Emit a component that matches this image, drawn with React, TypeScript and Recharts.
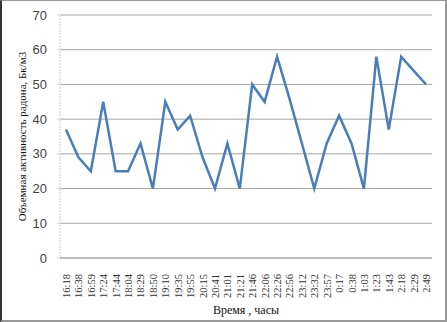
import React from 'react';
import { CartesianGrid, Label, Line, LineChart, XAxis, YAxis } from 'recharts';

const times = [
  '16:18', '16:38', '16:59', '17:24', '17:44', '18:04', '18:29', '18:50', '19:10', '19:35',
  '19:55', '20:15', '20:41', '21:01', '21:21', '21:46', '22:06', '22:26', '22:56', '23:12',
  '23:32', '23:57', '0:17', '0:38', '1:03', '1:23', '1:43', '2:18', '2:29', '2:49',
];
const radon = [
  37, 29, 25, 45, 25, 25, 33, 20, 45, 37,
  41, 29, 20, 33, 20, 50, 45, 58, 46, 33,
  20, 33, 41, 33, 20, 58, 37, 58, 54, 50,
];
const yTicks = [0, 10, 20, 30, 40, 50, 60, 70];

const data = times.map((t, i) => ({ time: t, value: radon[i] }));

const serif = '"Liberation Serif", "Times New Roman", serif';
const sans = '"Liberation Sans", Arial, sans-serif';

function TimeTick(props: any) {
  const { x, y, payload } = props;
  return (
    <text
      x={x}
      y={y}
      transform={`rotate(-90 ${x} ${y})`}
      dx={-8}
      dy={4}
      textAnchor="end"
      fontFamily={serif}
      fontSize={10.5}
      fill="#333"
    >
      {payload.value}
    </text>
  );
}

export default function App() {
  return (
    <div
      style={{
        position: 'absolute',
        left: 0,
        top: 0,
        width: 447,
        height: 322,
        boxSizing: 'border-box',
        borderLeft: '2px solid #333',
        borderTop: '1px solid #999',
        borderRight: '2px solid #999',
        borderBottom: '2px solid #999',
        background: '#fff',
      }}
    >
      <div style={{ position: 'absolute', left: -2, top: -1 }}>
        <LineChart width={447} height={322} data={data} margin={{ top: 15, right: 15, left: 0, bottom: 0 }}>
          <CartesianGrid vertical={false} stroke="#a6a6a6" />
          <XAxis
            dataKey="time"
            interval={0}
            height={64}
            padding={{ left: 6, right: 6 }}
            stroke="#a6a6a6"
            tickLine={false}
            tick={<TimeTick />}
          >
            <Label
              value="Время , часы"
              position="insideBottom"
              offset={8}
              style={{ fontFamily: serif, fontSize: 12, fill: '#111' }}
            />
          </XAxis>
          <YAxis
            width={60}
            domain={[0, 70]}
            ticks={yTicks}
            interval={0}
            stroke="#c8c8e6"
            strokeDasharray="2 1"
            tickSize={3}
            tickMargin={10}
            tick={{ fontFamily: sans, fontSize: 13, fill: '#444' }}
          >
            <Label
              value="Объемная активность радона, Бк/м3"
              angle={-90}
              position="insideLeft"
              offset={22}
              style={{ fontFamily: serif, fontSize: 11, fill: '#111', textAnchor: 'middle' }}
            />
          </YAxis>
          <Line
            type="linear"
            dataKey="value"
            stroke="#4a7ebb"
            strokeWidth={2.5}
            dot={false}
            isAnimationActive={false}
          />
        </LineChart>
      </div>
    </div>
  );
}
